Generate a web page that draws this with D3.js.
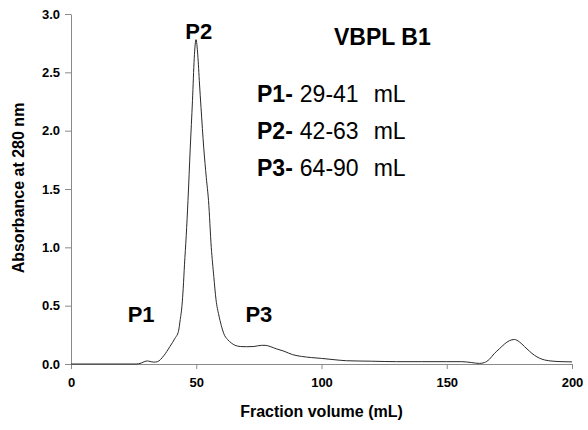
<!DOCTYPE html>
<html>
<head>
<meta charset="utf-8">
<script src="https://cdn.jsdelivr.net/npm/d3@7"></script>
<style>
  body { margin: 0; background: #fff; }
  text { font-family: "Liberation Sans", Arial, sans-serif; fill: #000; }
  .axis path, .axis line { stroke: #8a8a8a; }
  .axis text { font-weight: bold; font-size: 13px; }
</style>
</head>
<body>
<div id="chart"></div>
<script>
// elution profile
var volume = [0, 26, 28, 29.5, 30.5, 31.5, 33, 34.5, 37, 39.5, 41.5, 42.9, 43.6, 44.3, 44.8, 45.3, 46, 46.7, 47.6, 48.5, 49.2, 49.9,
  50.6, 51.3, 51.9, 53, 54, 54.9, 56, 57, 57.9, 59, 60, 61, 62.5, 64, 65.5, 67.6, 70, 73, 76, 77.5, 79.5, 82, 85, 88.5,
  92, 96, 100, 105, 110, 120, 130, 140, 150, 156, 160, 163, 165, 167, 169, 171, 173, 175, 177, 179, 181, 183, 185, 187,
  189, 192, 196, 200];
var absorbance = [0, 0, 0.008, 0.022, 0.026, 0.022, 0.016, 0.02, 0.07, 0.15, 0.22, 0.28, 0.38, 0.5, 0.65, 0.85, 1.1, 1.4, 1.85, 2.26, 2.62, 2.78,
  2.65, 2.4, 2.2, 1.85, 1.6, 1.4, 1.0, 0.75, 0.55, 0.42, 0.33, 0.26, 0.21, 0.18, 0.16, 0.15, 0.148, 0.15, 0.16, 0.16, 0.15, 0.13, 0.11, 0.08,
  0.065, 0.055, 0.048, 0.037, 0.028, 0.024, 0.02, 0.02, 0.02, 0.02, 0.012, 0.005, 0.012, 0.04, 0.09, 0.13, 0.17, 0.2, 0.21, 0.19, 0.15, 0.11, 0.075, 0.05,
  0.035, 0.025, 0.02, 0.018];

var xTicks = [0, 50, 100, 150, 200];
var yTicks = [0, 0.5, 1.0, 1.5, 2.0, 2.5, 3.0];

// peak labels and their fraction ranges
var peakNames = ["P1", "P2", "P3"];
var peakCenter = [28, 51, 75];       // mL, under the label
var peakLabelY = [0.36, 2.79, 0.36]; // absorbance at label baseline
var peakRanges = ["29-41", "42-63", "64-90"];
var sampleName = "VBPL B1";

var svgWidth = 588;
var svgHeight = 430;

var margin = { top: 14, right: 16, bottom: 66, left: 71 };
var width = svgWidth - margin.left - margin.right;
var height = svgHeight - margin.top - margin.bottom;

var svg = d3.select("#chart")
  .append("svg")
  .attr("width", svgWidth)
  .attr("height", svgHeight);

var chartGroup = svg.append("g")
  .attr("transform", `translate(${margin.left}, ${margin.top})`);

var xScale = d3.scaleLinear().domain([0, 200]).range([0, width]);
var yScale = d3.scaleLinear().domain([0, 3]).range([height, 0]);

// axes
chartGroup.append("g")
  .attr("class", "axis")
  .attr("transform", `translate(0, ${height})`)
  .call(d3.axisBottom(xScale).tickValues(xTicks).tickSize(5).tickSizeOuter(0).tickPadding(9))
  .call(g => g.selectAll("text").attr("dy", "0.71em"));

chartGroup.append("g")
  .attr("class", "axis")
  .call(d3.axisLeft(yScale).tickValues(yTicks).tickFormat(d3.format(".1f")).tickSize(6).tickSizeOuter(0).tickPadding(5));

// trace
var points = volume.map((v, i) => [v, absorbance[i]]);
var line = d3.line()
  .x(d => xScale(d[0]))
  .y(d => yScale(d[1]))
  .curve(d3.curveMonotoneX);

chartGroup.append("path")
  .datum(points)
  .attr("fill", "none")
  .attr("stroke", "#2a2a2a")
  .attr("stroke-width", 1)
  .attr("d", line);

// peak labels
chartGroup.selectAll(".peak")
  .data(peakNames)
  .enter()
  .append("text")
  .attr("class", "peak")
  .attr("x", (d, i) => xScale(peakCenter[i]))
  .attr("y", (d, i) => yScale(peakLabelY[i]))
  .attr("text-anchor", "middle")
  .style("font-size", "22px")
  .style("font-weight", "bold")
  .text(d => d);

// sample name
svg.append("text")
  .attr("x", 334)
  .attr("y", 45)
  .style("font-size", "23px")
  .style("font-weight", "bold")
  .text(sampleName);

// fraction ranges
var rows = svg.selectAll(".range")
  .data(peakNames)
  .enter()
  .append("text")
  .attr("class", "range")
  .attr("x", 257)
  .attr("y", (d, i) => 102 + i * 37)
  .style("font-size", "23px");
rows.append("tspan").style("font-weight", "bold").text(d => d + "-");
rows.append("tspan").attr("dx", 7).text((d, i) => peakRanges[i]);
rows.append("tspan").attr("dx", 15).text("mL");

// axis titles
svg.append("text")
  .attr("x", margin.left + width / 2)
  .attr("y", 417)
  .attr("text-anchor", "middle")
  .style("font-size", "16px")
  .style("font-weight", "bold")
  .text("Fraction volume (mL)");

svg.append("text")
  .attr("transform", "rotate(-90)")
  .attr("x", -188)
  .attr("y", 24)
  .attr("text-anchor", "middle")
  .style("font-size", "16px")
  .style("font-weight", "bold")
  .text("Absorbance at 280 nm");
</script>
</body>
</html>
